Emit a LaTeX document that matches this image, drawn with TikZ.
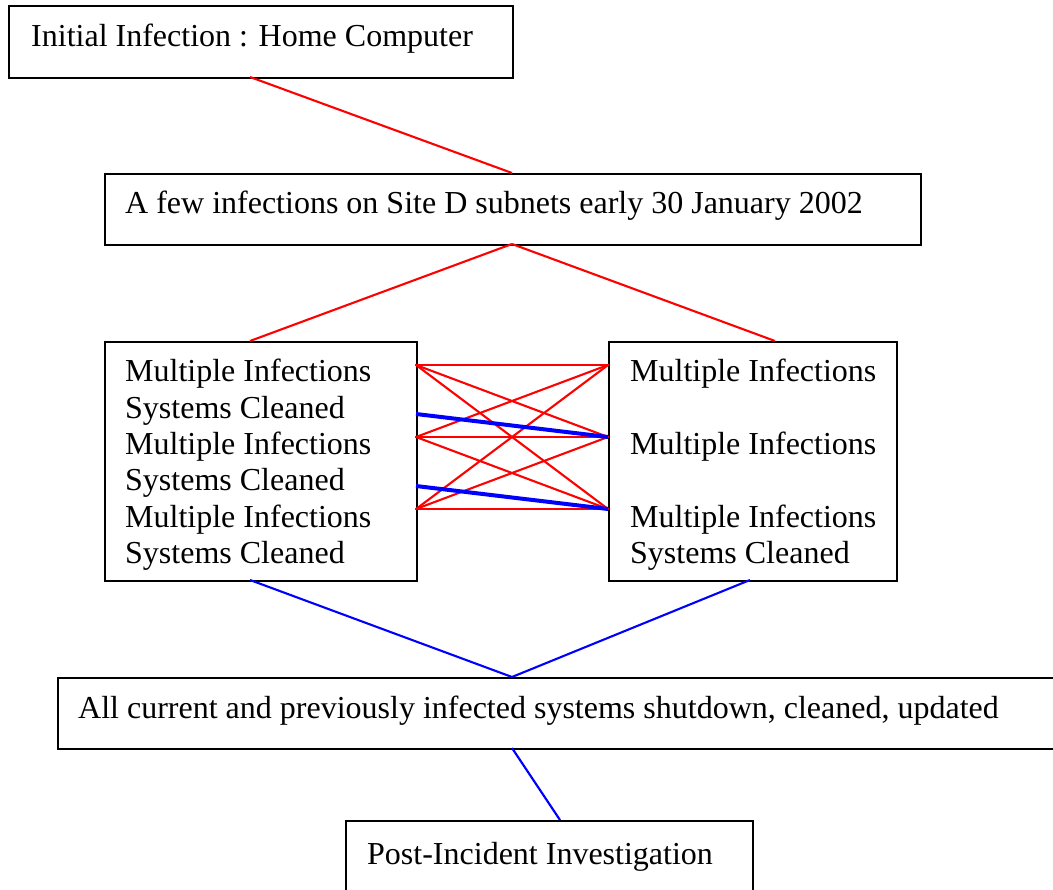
\documentclass[tikz,border=0pt]{standalone}
\usepackage{fontspec}
\setmainfont{Liberation Serif}
\begin{document}
\begin{tikzpicture}[x=1pt,y=-1pt,
  box/.style={draw=black,line width=2.4pt,inner sep=0pt,anchor=north west},
  txt/.style={anchor=base west,inner sep=0pt,font=\fontsize{32}{36.3}\selectfont},
  redline/.style={draw={rgb,255:red,255;green,0;blue,0},line width=2.1pt},
  blueline/.style={draw={rgb,255:red,0;green,0;blue,255},line width=2.1pt},
  bluethick/.style={draw={rgb,255:red,0;green,0;blue,255},line width=4pt}]
\useasboundingbox (0,0) rectangle (1053,890);
\clip (0,0) rectangle (1053,890);
% boxes
\node[box,minimum width=504pt,minimum height=72pt] (b1) at (8,5) {};
\node[box,minimum width=816pt,minimum height=71pt] (b2) at (104,173) {};
\node[box,minimum width=312pt,minimum height=239pt] (bl) at (104,341) {};
\node[box,minimum width=288pt,minimum height=239pt] (br) at (608,341) {};
\node[box,minimum width=1020pt,minimum height=71pt] (b4) at (57,677) {};
\node[box,minimum width=407pt,minimum height=100pt] (b5) at (345,820) {};
% texts
\node[txt] (t1) at (31,47) {Initial Infection : Home Computer};
\node[txt] (t2) at (125,214) {A few infections on Site D subnets early 30 January 2002};
\node[txt] (tl1) at (125,382) {Multiple Infections};
\node[txt] (tl2) at (125,418.3) {Systems Cleaned};
\node[txt] (tl3) at (125,454.6) {Multiple Infections};
\node[txt] (tl4) at (125,490.9) {Systems Cleaned};
\node[txt] (tl5) at (125,527.2) {Multiple Infections};
\node[txt] (tl6) at (125,563.5) {Systems Cleaned};
\node[txt] (tr1) at (630,382) {Multiple Infections};
\node[txt] (tr3) at (630,454.6) {Multiple Infections};
\node[txt] (tr5) at (630,527.2) {Multiple Infections};
\node[txt] (tr6) at (630,563.5) {Systems Cleaned};
\node[txt] (t4) at (78,718) {All current and previously infected systems shutdown, cleaned, updated};
\node[txt] (t5) at (367,864) {Post-Incident Investigation};
% ports
\coordinate (p1s) at (250,77);
\coordinate (p2n) at (512,173);
\coordinate (p2s) at (512,244);
\coordinate (pln) at (250,341);
\coordinate (prn) at (775,341);
\coordinate (pls) at (250,580);
\coordinate (prs) at (750,580);
\coordinate (p4n) at (512,677);
\coordinate (p4s) at (512,748);
\coordinate (p5n) at (560,820);
\coordinate (L1) at (416,365);
\coordinate (L2) at (416,437);
\coordinate (L3) at (416,509);
\coordinate (R1) at (608,365);
\coordinate (R2) at (608,437);
\coordinate (R3) at (608,509);
\coordinate (LB1) at (416,414);
\coordinate (LB2) at (416,486);
% connectors
\draw[redline] (p1s) -- (p2n);
\draw[redline] (p2s) -- (pln);
\draw[redline] (p2s) -- (prn);
\foreach \a in {L1,L2,L3}{
  \foreach \b in {R1,R2,R3}{
    \draw[redline,line cap=round] (\a) -- (\b);
  }
}
\draw[bluethick] (LB1) -- (R2);
\draw[bluethick] (LB2) -- (R3);
\draw[blueline] (pls) -- (p4n);
\draw[blueline] (prs) -- (p4n);
\draw[blueline] (p4s) -- (p5n);
\end{tikzpicture}
\end{document}
